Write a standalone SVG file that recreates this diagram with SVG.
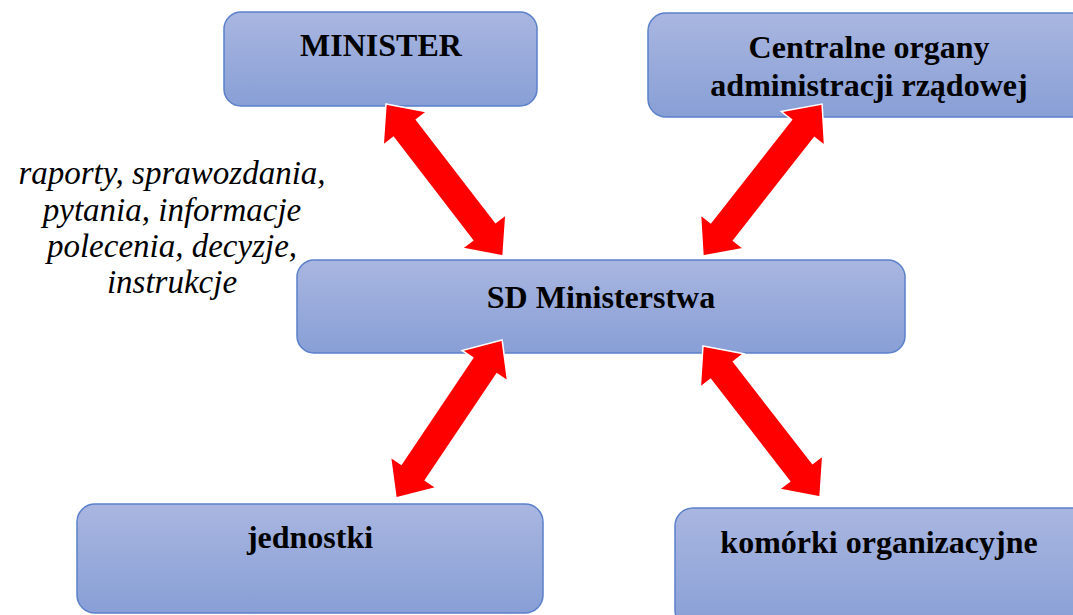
<svg xmlns="http://www.w3.org/2000/svg" width="1073" height="615" viewBox="0 0 1073 615">
<defs>
<linearGradient id="g" x1="0" y1="0" x2="0" y2="1">
<stop offset="0" stop-color="#a9b6e0"/>
<stop offset="1" stop-color="#889fd6"/>
</linearGradient>
<style>
.box{fill:url(#g);stroke:#5b80ca;stroke-width:1.5}
.t{font-family:"Liberation Serif","Times New Roman",serif;font-weight:bold;font-size:32px;fill:#000;text-anchor:middle}
.it{font-family:"Liberation Serif","Times New Roman",serif;font-style:italic;font-size:33px;fill:#000;text-anchor:middle}
.arr{fill:#ff0000;stroke:#ffffff;stroke-width:1.5;stroke-linejoin:miter}
</style>
</defs>
<rect width="1073" height="615" fill="#ffffff"/>
<g id="minister">
<rect class="box" x="224" y="12" width="313" height="94" rx="17"/>
<text class="t" x="381" y="56">MINISTER</text>
</g>
<g id="centralne">
<rect class="box" x="648" y="13" width="445" height="104" rx="18"/>
<text class="t" x="869" y="58">Centralne organy</text>
<text class="t" x="869" y="96">administracji rządowej</text>
</g>
<g id="sd">
<rect class="box" x="297" y="260" width="608" height="93" rx="17"/>
<text class="t" x="601" y="308">SD Ministerstwa</text>
</g>
<g id="jednostki">
<rect class="box" x="77" y="504" width="466" height="109" rx="18"/>
<text class="t" x="310" y="548">jednostki</text>
</g>
<g id="komorki">
<rect class="box" x="675" y="508" width="420" height="120" rx="18"/>
<text class="t" x="879" y="553">komórki organizacyjne</text>
</g>
<g id="label">
<text class="it" x="172" y="184">raporty, sprawozdania,</text>
<text class="it" x="172" y="221">pytania, informacje</text>
<text class="it" x="172" y="257">polecenia, decyzje,</text>
<text class="it" x="172" y="293">instrukcje</text>
</g>
<g id="connectors">
<polygon class="arr" transform="translate(386 104) rotate(52.4)" points="0,0 31,-27.5 31,-14.5 160.8,-14.5 160.8,-27.5 191.8,0 160.8,27.5 160.8,14.5 31,14.5 31,27.5"/>
<polygon class="arr" transform="translate(703 256) rotate(-51.9)" points="0,0 31,-27.5 31,-14.5 162,-14.5 162,-27.5 193,0 162,27.5 162,14.5 31,14.5 31,27.5"/>
<polygon class="arr" transform="translate(396 498) rotate(-56.1)" points="0,0 31,-27.5 31,-14.5 159.3,-14.5 159.3,-27.5 190.3,0 159.3,27.5 159.3,14.5 31,14.5 31,27.5"/>
<polygon class="arr" transform="translate(703 346) rotate(52.2)" points="0,0 31,-27.5 31,-14.5 160,-14.5 160,-27.5 191,0 160,27.5 160,14.5 31,14.5 31,27.5"/>
</g>
</svg>
